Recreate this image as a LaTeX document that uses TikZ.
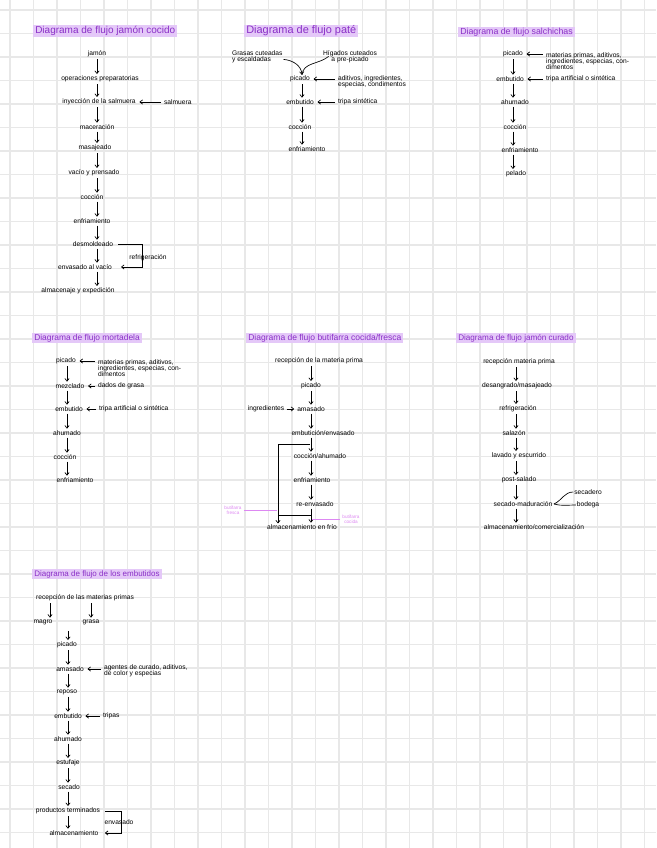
\documentclass[tikz,border=0pt]{standalone}
\usepackage{fontspec}
\setmainfont{Liberation Sans}
\usetikzlibrary{arrows.meta}
\definecolor{hl}{HTML}{E4C8F8}
\definecolor{ttlc}{HTML}{8A2FC7}
\definecolor{pinkc}{HTML}{DD88F2}
\definecolor{gridc}{HTML}{E8E8E8}
\begin{document}
\begin{tikzpicture}[x=0.75pt,y=-0.75pt,
  gridl/.style={draw=gridc, line width=1.1pt},
  t/.style={inner sep=0.6pt, font=\fontsize{5}{4.7}\selectfont},
  ttl/.style={anchor=west, inner xsep=1.5pt, inner ysep=0.9pt, fill=hl, text=ttlc, font=\fontsize{7.5}{7.5}\selectfont},
  arr/.style={-{Straight Barb[length=2pt,width=3.2pt]}, line width=0.5pt},
  sarr/.style={arr, shorten >=2pt, shorten <=1.5pt},
  varr/.style={arr, shorten >=0.6pt, shorten <=0.8pt},
  ln/.style={line width=0.5pt},
  pk/.style={text=pinkc, inner sep=0.5pt, font=\fontsize{3.5}{3.7}\selectfont},
  pkl/.style={draw=pinkc, line width=0.5pt}]
\useasboundingbox (0,0) rectangle (656,848);
\fill[white] (0,0) rectangle (656,848);
\foreach \i in {0,...,27} \draw[gridl] (10+23.5*\i,0) -- (10+23.5*\i,848);
\foreach \j in {0,...,35} \draw[gridl] (0,10+23.5*\j) -- (656,10+23.5*\j);

% ---------- Panel 1: jamon cocido
\coordinate (c1) at (97,0);
\coordinate (b1x) at (142,0);
\node[ttl] (t1) at (33,31) {Diagrama de flujo jamón cocido};
\node[t] (a1) at (97,54) {jamón};
\node[t] (a2) at (100,79) {operaciones preparatorias};
\node[t] (a3) at (99,102) {inyección de la salmuera};
\node[t,anchor=west] (a3s) at (163,102) {salmuera};
\node[t] (a4) at (97,127) {maceración};
\node[t] (a5) at (95,148) {masajeado};
\node[t] (a6) at (94,173) {vacío y prensado};
\node[t] (a7) at (92,197) {cocción};
\node[t] (a8) at (92,221) {enfriamiento};
\node[t] (a9) at (93,244) {desmoldeado};
\node[t] (a10) at (85,267) {envasado al vacío};
\node[t] (a11) at (78,291) {almacenaje y expedición};
\node[t] (a9l) at (148,258) {refrigeración};
\foreach \u/\v in {a1/a2,a2/a3,a3/a4,a4/a5,a5/a6,a6/a7,a7/a8,a8/a9,a9/a10,a10/a11}
  \draw[varr] (\u.south -| c1) -- (\v.north -| c1);
\draw[sarr] (a3s.west) -- (a3.east);
\draw[arr, shorten <=3pt, shorten >=6pt] (a9.east) -- (a9.east -| b1x) |- (a10.east);

% ---------- Panel 2: pate
\coordinate (c2) at (302,0);
\node[ttl,font=\fontsize{8.2}{8.2}\selectfont] (t2) at (244,31) {Diagrama de flujo paté};
\node[t,align=left,anchor=west] (b0a) at (231,57) {Grasas cuteadas\\ y escaldadas};
\node[t,align=center] (b0b) at (350,57) {Hígados cuteados\\ a pre-picado};
\node[t] (b1) at (300,79) {picado};
\node[t,align=left,anchor=west] (b1s) at (337,81.5) {aditivos, ingredientes,\\ especias, condimentos};
\node[t] (b2) at (300,102) {embutido};
\node[t,anchor=west] (b2s) at (337,102) {tripa sintética};
\node[t] (b3) at (300,127) {cocción};
\node[t] (b4) at (307,149) {enfriamiento};
\draw[arr] ([yshift=-1.8pt]b0a.east) to[out=-5,in=95] (b1.north -| c2);
\draw[ln] ([xshift=5pt,yshift=0.5pt]b0b.west) to[out=-140,in=85] (b1.north -| c2);
\draw[sarr] (b1s.west |- b1) -- (b1.east);
\draw[sarr] (b2s.west) -- (b2.east);
\foreach \u/\v in {b1/b2,b2/b3,b3/b4}
  \draw[varr] (\u.south -| c2) -- (\v.north -| c2);

% ---------- Panel 3: salchichas
\coordinate (c3) at (513,0);
\node[ttl,font=\fontsize{6.6}{6.6}\selectfont] (t3) at (458,32) {Diagrama de flujo salchichas};
\node[t] (d1) at (513,54) {picado};
\node[t,align=left,anchor=north west] (d1s) at (545,51.2) {materias primas, aditivos,\\ ingredientes, especias, con-\\ dimentos};
\node[t] (d2) at (510,79) {embutido};
\node[t,anchor=west] (d2s) at (545,79) {tripa artificial o sintética};
\node[t] (d3) at (515,102) {ahumado};
\node[t] (d4) at (515,127) {cocción};
\node[t] (d5) at (520,150) {enfriamiento};
\node[t] (d6) at (516,174) {pelado};
\draw[sarr] (d1s.west |- d1) -- (d1.east);
\draw[sarr] (d2s.west) -- (d2.east);
\foreach \u/\v in {d1/d2,d2/d3,d3/d4,d4/d5,d5/d6}
  \draw[varr] (\u.south -| c3) -- (\v.north -| c3);

% ---------- Panel 4: mortadela
\coordinate (c4) at (67,0);
\node[ttl,font=\fontsize{6.3}{6.3}\selectfont] (t4) at (32,338) {Diagrama de flujo mortadela};
\node[t] (e1) at (66,361) {picado};
\node[t,align=left,anchor=north west] (e1s) at (97,358.2) {materias primas, aditivos,\\ ingredientes, especias, con-\\ dimentos};
\node[t] (e2) at (70,386) {mezclado};
\node[t,anchor=west] (e2s) at (97,386) {dados de grasa};
\node[t] (e3) at (69,409) {embutido};
\node[t,anchor=west] (e3s) at (98,409) {tripa artificial o sintética};
\node[t] (e4) at (67,433) {ahumado};
\node[t] (e5) at (65,457) {cocción};
\node[t] (e6) at (75,480) {enfriamiento};
\draw[sarr] (e1s.west |- e1) -- (e1.east);
\draw[sarr] (e2s.west) -- (e2.east);
\draw[sarr] (e3s.west) -- (e3.east);
\foreach \u/\v in {e1/e2,e2/e3,e3/e4,e4/e5,e5/e6}
  \draw[varr] (\u.south -| c4) -- (\v.north -| c4);

% ---------- Panel 5: butifarra
\coordinate (c5) at (311,0);
\coordinate (fx) at (278,0);
\coordinate (fh) at (0,515);
\coordinate (f45) at (310,444);
\node[ttl,font=\fontsize{6.4}{6.4}\selectfont] (t5) at (246,338) {Diagrama de flujo butifarra cocida/fresca};
\node[t] (f1) at (319,361) {recepción de la materia prima};
\node[t] (f2) at (311,386) {picado};
\node[t] (f3) at (311,409) {amasado};
\node[t] (f3s) at (266,409) {ingredientes};
\node[t] (f4) at (323,433) {embutición/envasado};
\node[t] (f5) at (320,456) {cocción/ahumado};
\node[t] (f6) at (312,480) {enfriamiento};
\node[t] (f7) at (315,504) {re-envasado};
\node[t] (f8) at (302,527) {almacenamiento en frío};
\draw[arr, shorten <=1pt, shorten >=1.5pt] (f3s.east) -- (f3.west);
\foreach \u/\v in {f1/f2,f2/f3,f3/f4,f4/f5,f5/f6,f6/f7,f7/f8}
  \draw[varr] (\u.south -| c5) -- (\v.north -| c5);
\draw[arr] (f45) -- (f45 -| fx) -- (f8.north -| fx);
\draw[ln] (fh -| fx) -- (fh -| c5);
\node[pk,align=center] (g1) at (233,510) {butifarra\\ fresca};
\node[pk,align=center] (g2) at (351,519) {butifarra\\ cocida};
\draw[pkl] ([xshift=1pt]g1.east) -- ([xshift=-0.6pt]g1.east -| fx);
\draw[pkl] ([xshift=-1pt]g2.west) -- ([xshift=0.6pt]g2.west -| c5);

% ---------- Panel 6: jamon curado
\coordinate (c6) at (516,0);
\node[ttl,font=\fontsize{6.1}{6.1}\selectfont] (t6) at (456,338) {Diagrama de flujo jamón curado};
\node[t] (h1) at (519,362) {recepción materia prima};
\node[t] (h2) at (517,386) {desangrado/masajeado};
\node[t] (h3) at (518,409) {refrigeración};
\node[t] (h4) at (514,433) {salazón};
\node[t] (h5) at (519,456) {lavado y escurrido};
\node[t] (h6) at (519,480) {post-salado};
\node[t] (h7) at (523,504) {secado-maduración};
\node[t] (h7a) at (588,492) {secadero};
\node[t] (h7b) at (588,505) {bodega};
\node[t] (h8) at (534,527) {almacenamiento/comercialización};
\foreach \u/\v in {h1/h2,h2/h3,h3/h4,h4/h5,h5/h6,h6/h7,h7/h8}
  \draw[varr] (\u.south -| c6) -- (\v.north -| c6);
\draw[ln] ([xshift=0.5pt]h7.east) to[out=25,in=180] (h7a.west);
\draw[ln] ([xshift=0.5pt]h7.east) to[out=-15,in=180] (h7b.west);

% ---------- Panel 7: embutidos
\coordinate (c7) at (68,0);
\coordinate (c7l) at (50,0);
\coordinate (c7r) at (91,0);
\coordinate (kb) at (121,0);
\node[ttl,font=\fontsize{6}{6}\selectfont] (t7) at (32,574) {Diagrama de flujo de los embutidos};
\node[t] (k1) at (85,598) {recepción de las materias primas};
\node[t] (k2) at (43,622) {magro};
\node[t] (k3) at (91,622) {grasa};
\node[t] (k4) at (67,645) {picado};
\node[t] (k5) at (70,669) {amasado};
\node[t,align=left,anchor=west] (k5s) at (103,671) {agentes de curado, aditivos,\\ de color y especias};
\node[t] (k6) at (67,692) {reposo};
\node[t] (k7) at (68,716) {embutido};
\node[t,anchor=west] (k7s) at (102,716) {tripas};
\node[t] (k8) at (68,739) {ahumado};
\node[t] (k9) at (68,763) {estufaje};
\node[t] (k10) at (69,787) {secado};
\node[t] (k11) at (68,811) {productos terminados};
\node[t] (k12) at (74,833) {almacenamiento};
\node[t] (k11l) at (119,822) {envasado};
\draw[varr] (k1.south -| c7l) -- (k2.north -| c7l);
\draw[varr] (k1.south -| c7r) -- (k3.north -| c7r);
\draw[varr, shorten <=4pt] (k2.south -| c7) -- (k4.north -| c7);
\foreach \u/\v in {k4/k5,k5/k6,k6/k7,k7/k8,k8/k9,k9/k10,k10/k11,k11/k12}
  \draw[varr] (\u.south -| c7) -- (\v.north -| c7);
\draw[sarr] (k5s.west |- k5) -- (k5.east);
\draw[sarr] (k7s.west) -- (k7.east);
\draw[arr, shorten <=3pt, shorten >=4pt] (k11.east) -- (k11.east -| kb) |- (k12.east);
\end{tikzpicture}
\end{document}
